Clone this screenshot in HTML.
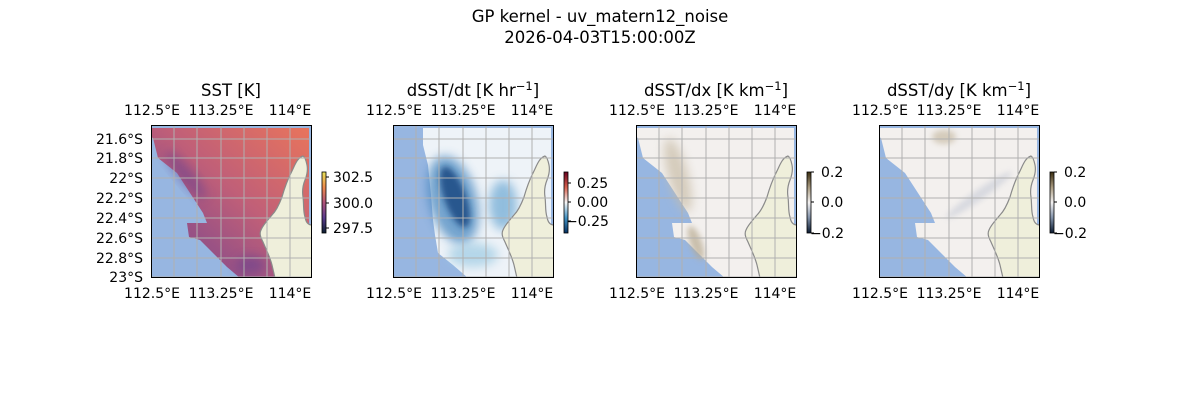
<!DOCTYPE html>
<html><head><meta charset="utf-8"><style>
html,body{margin:0;padding:0;background:#fff;}
svg{display:block;font-family:"DejaVu Sans","Liberation Sans",sans-serif;}
</style></head><body>
<svg width="1200" height="400" viewBox="0 0 1200 400" xmlns="http://www.w3.org/2000/svg">
<defs>
<clipPath id="ax"><rect x="0" y="0" width="161" height="153"/></clipPath>
<filter id="bl" x="-50%" y="-50%" width="200%" height="200%"><feGaussianBlur stdDeviation="5"/></filter>
<filter id="bl2" x="-50%" y="-50%" width="200%" height="200%"><feGaussianBlur stdDeviation="3"/></filter>
<linearGradient id="g1" x1="0" y1="1" x2="1" y2="0">
<stop offset="0" stop-color="#7a4890"/><stop offset="0.3" stop-color="#9a5284"/><stop offset="0.55" stop-color="#c05f78"/><stop offset="1" stop-color="#e8745c"/></linearGradient>
<linearGradient id="cb1" x1="0" y1="0" x2="0" y2="1">
<stop offset="0" stop-color="#e8e45a"/><stop offset="0.25" stop-color="#ee8a4c"/><stop offset="0.5" stop-color="#b0537a"/><stop offset="0.75" stop-color="#5a3b8d"/><stop offset="1" stop-color="#0c1f30"/></linearGradient>
<linearGradient id="cb2" x1="0" y1="0" x2="0" y2="1">
<stop offset="0" stop-color="#67001f"/><stop offset="0.25" stop-color="#d6604d"/><stop offset="0.5" stop-color="#f7f7f7"/><stop offset="0.75" stop-color="#4393c3"/><stop offset="1" stop-color="#053061"/></linearGradient>
<linearGradient id="cb3" x1="0" y1="0" x2="0" y2="1">
<stop offset="0" stop-color="#3a2d10"/><stop offset="0.25" stop-color="#a89a80"/><stop offset="0.5" stop-color="#f4f2f2"/><stop offset="0.75" stop-color="#8090a8"/><stop offset="1" stop-color="#0a1a30"/></linearGradient>
<path id="dmask" d="M0,3 L158,3 L158,153 L89,153 L76,142 L59,125 L49,115 L38,112 L36,98 L56,98 L52,88 L39,68 L26,48 L7,33 L2,13 L0,12 Z"/>
<path id="land" d="M152,31 C146,33 144,40 140,48 C136,56 133,65 131,72 C128,80 125,86 121,90 C116,96 112,100 110,105 C108,109 110,113 112,117 C115,124 119,132 121,140 L124,153 L161,153 L161,100 C158,100 155,98 154,92 C152,86 153,80 152,72 C151,66 152,60 154,55 C156,50 157,45 156,40 C155,35 154,32 152,31 Z"/>
<g id="grid" stroke="#b0b0b0" stroke-width="1" fill="none">
<path d="M23,0V153M46,0V153M70,0V153M93,0V153M116,0V153M139,0V153M0,14H161M0,33H161M0,53H161M0,73H161M0,93H161M0,113H161M0,133H161M0,152H161"/>
</g>
</defs>

<text x="600" y="22" font-size="16.5" text-anchor="middle">GP kernel - uv_matern12_noise</text>
<text x="600" y="43" font-size="16.5" text-anchor="middle">2026-04-03T15:00:00Z</text>

<!-- Panel 1 -->
<g transform="translate(151,125)">
<g clip-path="url(#ax)">
<rect width="161" height="153" fill="#97b6e1"/>
<use href="#dmask" fill="url(#g1)"/>
<ellipse cx="35" cy="50" rx="7" ry="30" fill="#6a4390" opacity="0.55" filter="url(#bl)" transform="rotate(-40 35 50)"/>
<ellipse cx="100" cy="140" rx="15" ry="9" fill="#6a4390" opacity="0.6" filter="url(#bl)"/>
<use href="#land" fill="#efefdb" stroke="#8a8a8a" stroke-width="1.2"/>
<use href="#grid"/>
</g>
<rect x="0.5" y="0.5" width="160" height="152" fill="none" stroke="#000"/>
</g>
<text x="231" y="96" font-size="16.5" text-anchor="middle">SST [K]</text>
<g font-size="14" text-anchor="middle">
<text x="152" y="115">112.5°E</text><text x="221" y="115">113.25°E</text><text x="290" y="115">114°E</text>
<text x="152" y="298">112.5°E</text><text x="221" y="298">113.25°E</text><text x="290" y="298">114°E</text>
</g>
<g font-size="14" text-anchor="end">
<text x="143" y="144">21.6°S</text><text x="143" y="163">21.8°S</text><text x="143" y="183">22°S</text><text x="143" y="203">22.2°S</text><text x="143" y="223">22.4°S</text><text x="143" y="243">22.6°S</text><text x="143" y="263">22.8°S</text><text x="143" y="282">23°S</text>
</g>
<rect x="322" y="172" width="4" height="61" fill="url(#cb1)" stroke="#000" stroke-width="0.8"/>
<g stroke="#000"><path d="M326,177h3M326,203h3M326,228h3"/></g>
<g font-size="14"><text x="333" y="182">302.5</text><text x="333" y="208">300.0</text><text x="333" y="233">297.5</text></g>

<!-- Panel 2 -->
<g transform="translate(393,125)">
<g clip-path="url(#ax)">
<rect width="161" height="153" fill="#97b6e1"/>
<path d="M30,3 L158,3 L158,153 L75,153 L60,140 L45,128 L42,110 L40,95 L38,70 L35,40 L30,20 Z" fill="#eef3f8"/>
<ellipse cx="60" cy="75" rx="24" ry="45" fill="#4a88c0" opacity="0.75" filter="url(#bl)" transform="rotate(-15 60 75)"/>
<ellipse cx="62" cy="72" rx="11" ry="32" fill="#14457f" opacity="0.8" filter="url(#bl2)" transform="rotate(-20 62 72)"/>
<ellipse cx="110" cy="80" rx="14" ry="25" fill="#6aa7d3" opacity="0.7" filter="url(#bl)"/>
<ellipse cx="80" cy="130" rx="25" ry="12" fill="#9ccae3" opacity="0.7" filter="url(#bl)"/>
<use href="#land" fill="#efefdb" stroke="#8a8a8a" stroke-width="1.2"/>
<use href="#grid"/>
</g>
<rect x="0.5" y="0.5" width="160" height="152" fill="none" stroke="#000"/>
</g>
<text x="473" y="96" font-size="16.5" text-anchor="middle">dSST/dt [K hr<tspan font-size="11.5" dy="-6">−1</tspan><tspan dy="6">]</tspan></text>
<g font-size="14" text-anchor="middle">
<text x="394" y="115">112.5°E</text><text x="463" y="115">113.25°E</text><text x="532" y="115">114°E</text>
<text x="394" y="298">112.5°E</text><text x="463" y="298">113.25°E</text><text x="532" y="298">114°E</text>
</g>
<rect x="564" y="172" width="4" height="61" fill="url(#cb2)" stroke="#000" stroke-width="0.8"/>
<g stroke="#000"><path d="M568,183h3M568,202h3M568,221h3"/></g>
<g font-size="14"><text x="577" y="188">0.25</text><text x="577" y="207">0.00</text><text x="566" y="226">−0.25</text></g>

<!-- Panel 3 -->
<g transform="translate(636,125)">
<g clip-path="url(#ax)">
<rect width="161" height="153" fill="#97b6e1"/>
<use href="#dmask" fill="#f3f0ee"/>
<ellipse cx="42" cy="50" rx="10" ry="38" fill="#c8bca6" opacity="0.7" filter="url(#bl)" transform="rotate(-15 42 50)"/>
<ellipse cx="60" cy="118" rx="6" ry="18" fill="#b8aa90" opacity="0.7" filter="url(#bl2)" transform="rotate(-20 60 118)"/>
<use href="#land" fill="#efefdb" stroke="#8a8a8a" stroke-width="1.2"/>
<use href="#grid"/>
</g>
<rect x="0.5" y="0.5" width="160" height="152" fill="none" stroke="#000"/>
</g>
<text x="716" y="96" font-size="16.5" text-anchor="middle">dSST/dx [K km<tspan font-size="11.5" dy="-6">−1</tspan><tspan dy="6">]</tspan></text>
<g font-size="14" text-anchor="middle">
<text x="637" y="115">112.5°E</text><text x="706" y="115">113.25°E</text><text x="775" y="115">114°E</text>
<text x="637" y="298">112.5°E</text><text x="706" y="298">113.25°E</text><text x="775" y="298">114°E</text>
</g>
<rect x="807" y="172" width="4" height="61" fill="url(#cb3)" stroke="#000" stroke-width="0.8"/>
<g stroke="#000"><path d="M811,172h3M811,202h3M811,233h3"/></g>
<g font-size="14"><text x="821" y="177">0.2</text><text x="821" y="207">0.0</text><text x="810" y="238">−0.2</text></g>

<!-- Panel 4 -->
<g transform="translate(879,125)">
<g clip-path="url(#ax)">
<rect width="161" height="153" fill="#97b6e1"/>
<use href="#dmask" fill="#f3f0ee"/>
<ellipse cx="65" cy="12" rx="12" ry="7" fill="#c8bca6" opacity="0.7" filter="url(#bl2)"/>
<ellipse cx="100" cy="70" rx="5" ry="40" fill="#d0d3dc" opacity="0.8" filter="url(#bl2)" transform="rotate(55 100 70)"/>
<use href="#land" fill="#efefdb" stroke="#8a8a8a" stroke-width="1.2"/>
<use href="#grid"/>
</g>
<rect x="0.5" y="0.5" width="160" height="152" fill="none" stroke="#000"/>
</g>
<text x="959" y="96" font-size="16.5" text-anchor="middle">dSST/dy [K km<tspan font-size="11.5" dy="-6">−1</tspan><tspan dy="6">]</tspan></text>
<g font-size="14" text-anchor="middle">
<text x="880" y="115">112.5°E</text><text x="949" y="115">113.25°E</text><text x="1018" y="115">114°E</text>
<text x="880" y="298">112.5°E</text><text x="949" y="298">113.25°E</text><text x="1018" y="298">114°E</text>
</g>
<rect x="1050" y="172" width="4" height="61" fill="url(#cb3)" stroke="#000" stroke-width="0.8"/>
<g stroke="#000"><path d="M1054,172h3M1054,202h3M1054,233h3"/></g>
<g font-size="14"><text x="1064" y="177">0.2</text><text x="1064" y="207">0.0</text><text x="1053" y="238">−0.2</text></g>
</svg>
</body></html>
